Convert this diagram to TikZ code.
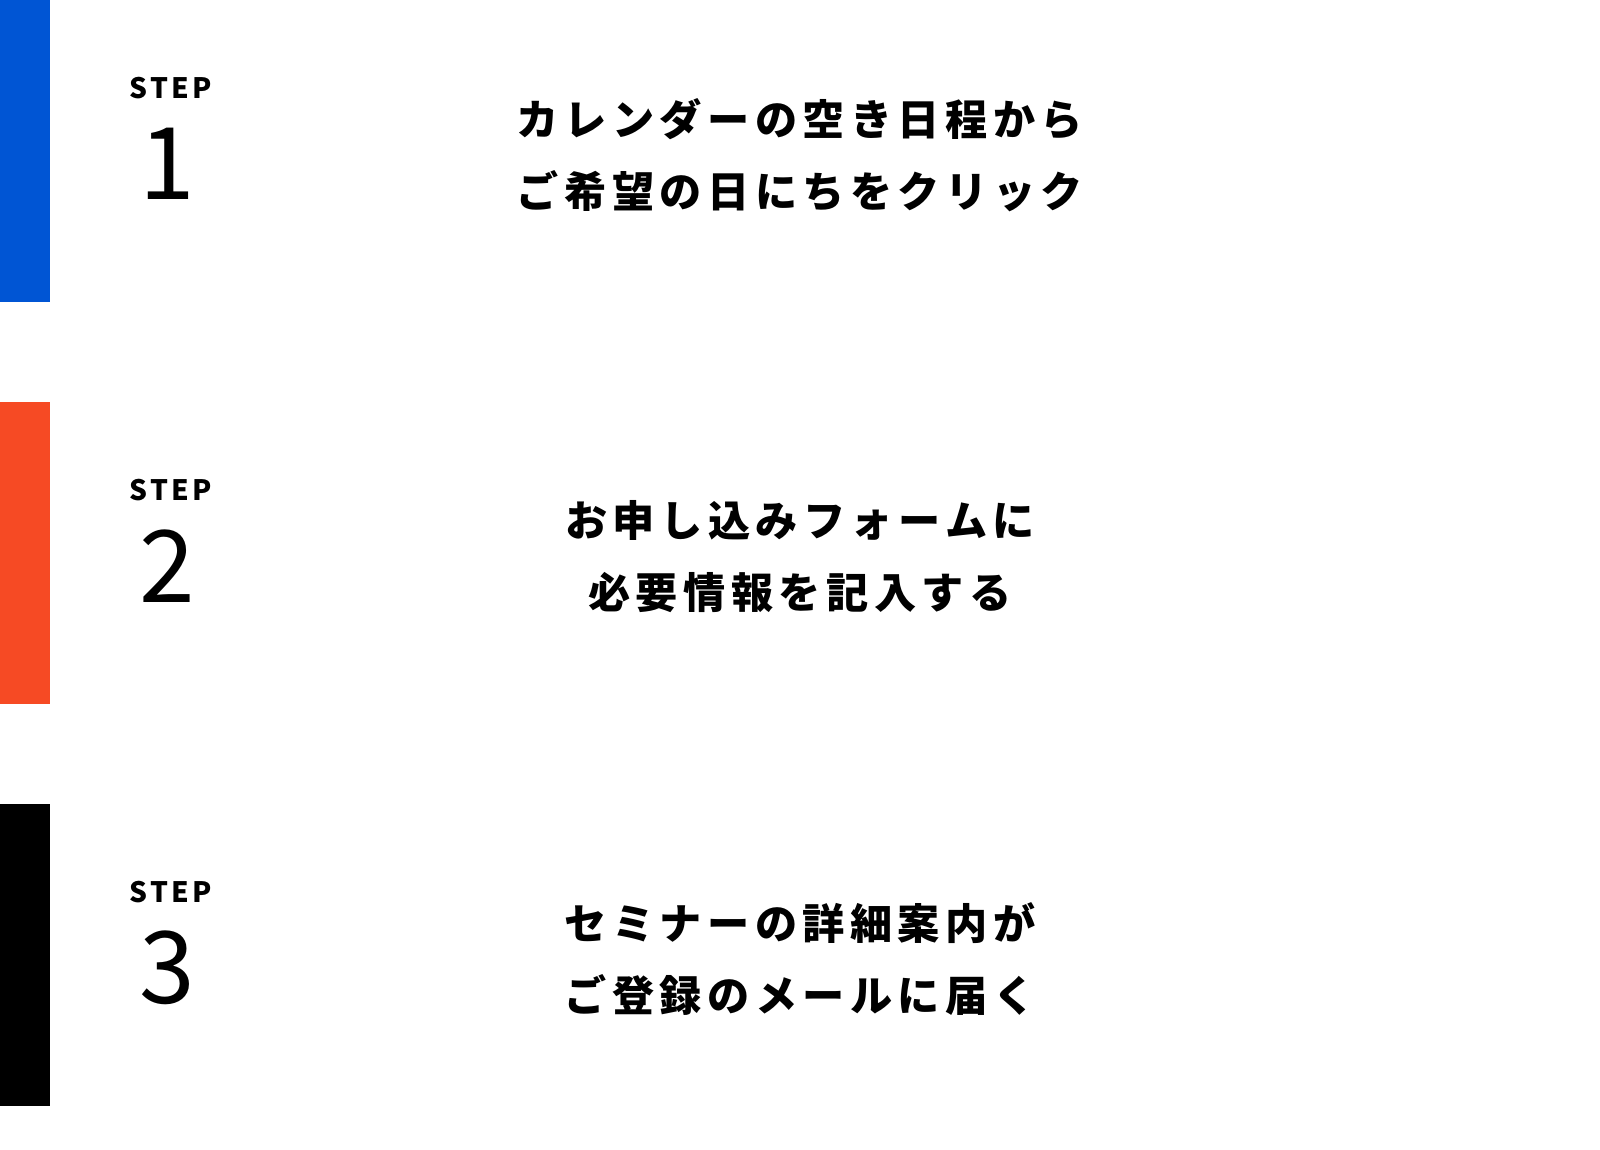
\documentclass[tikz,border=0pt]{standalone}
\usepackage{fontspec}
\newfontfamily\jpfont[LetterSpace=13]{Noto Sans CJK JP}
\newfontfamily\stepfont[LetterSpace=12]{Noto Sans CJK JP}
\newfontfamily\numfont{Noto Sans CJK JP}
\usetikzlibrary{positioning}
\definecolor{stepblue}{HTML}{0055D4}
\definecolor{steporange}{HTML}{F64A24}
\begin{document}
\begin{tikzpicture}[x=0.02cm,y=-0.02cm,
    bar/.style={inner sep=0pt, minimum width=1cm, minimum height=6.04cm, anchor=north west},
    steplabel/.style={font=\stepfont\bfseries\fontsize{16}{16}\selectfont, inner sep=0pt},
    stepnum/.style={font=\numfont\fontsize{57}{57}\selectfont, inner sep=0pt},
    steptext/.style={font=\jpfont\bfseries\fontsize{24}{41}\selectfont, align=center, inner sep=0pt}]
    \useasboundingbox[fill=white] (0,0) rectangle (1600,1150);

    % Step 1
    \node[bar, fill=stepblue] (bar1) at (0,0) {};
    \node[steplabel] (lbl1) at (171,88) {STEP};
    \node[stepnum] (num1) at (167,164) {1};
    \node[steptext] (txt1) at (800,155) {カレンダーの空き日程から\\ご希望の日にちをクリック};

    % Step 2
    \node[bar, fill=steporange] (bar2) at (0,402) {};
    \node[steplabel] (lbl2) at (171,490) {STEP};
    \node[stepnum] (num2) at (167,566) {2};
    \node[steptext] (txt2) at (800,557) {お申し込みフォームに\\必要情報を記入する};

    % Step 3
    \node[bar, fill=black] (bar3) at (0,804) {};
    \node[steplabel] (lbl3) at (171,892) {STEP};
    \node[stepnum] (num3) at (167,968) {3};
    \node[steptext] (txt3) at (800,959) {セミナーの詳細案内が\\ご登録のメールに届く};
\end{tikzpicture}
\end{document}
